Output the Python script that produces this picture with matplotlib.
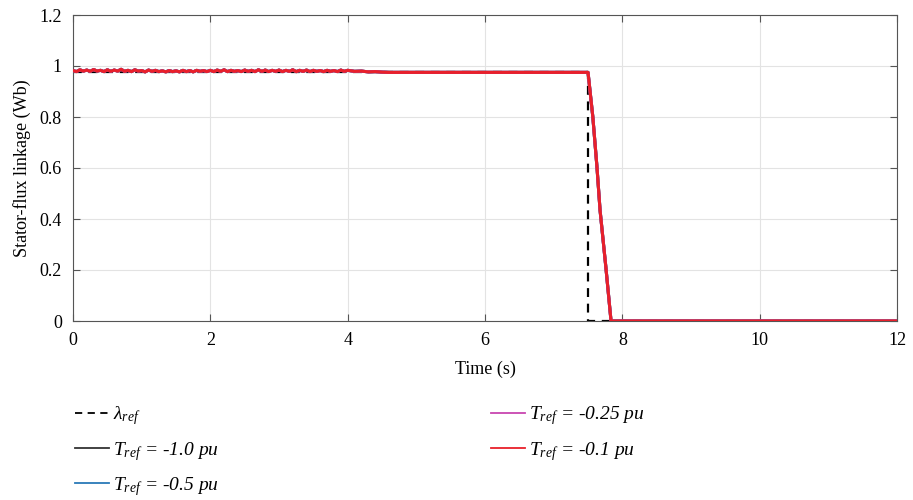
import numpy as np
import matplotlib
matplotlib.use("Agg")
import matplotlib.pyplot as plt

plt.rcParams["font.family"] = "Liberation Serif"
plt.rcParams["mathtext.fontset"] = "custom"
plt.rcParams["mathtext.it"] = "Liberation Serif:italic"
plt.rcParams["mathtext.rm"] = "Liberation Serif:italic"

# reference flux: constant then step to zero at 7.5 s
ref_t = [0.0, 7.5, 7.5, 12.0]
ref_flux = [0.975, 0.975, 0.0, 0.0]

# measured flux (ripple during first ~4.5 s, then flat, ramp down after 7.5 s)
ripple_t = [0.0, 0.05, 0.1, 0.15, 0.2, 0.25, 0.3, 0.35, 0.4, 0.45, 0.5, 0.55, 0.6,
            0.65, 0.7, 0.75, 0.8, 0.85, 0.9, 0.95, 1.0, 1.05, 1.1, 1.15, 1.2, 1.25,
            1.3, 1.35, 1.4, 1.45, 1.5, 1.55, 1.6, 1.65, 1.7, 1.75, 1.8, 1.85, 1.9,
            1.95, 2.0, 2.05, 2.1, 2.15, 2.2, 2.25, 2.3, 2.35, 2.4, 2.45, 2.5, 2.55,
            2.6, 2.65, 2.7, 2.75, 2.8, 2.85, 2.9, 2.95, 3.0, 3.05, 3.1, 3.15, 3.2,
            3.25, 3.3, 3.35, 3.4, 3.45, 3.5, 3.55, 3.6, 3.65, 3.7, 3.75, 3.8, 3.85,
            3.9, 3.95, 4.0, 4.1, 4.2, 4.3, 4.4, 4.5, 4.6]
ripple_flux = [0.982, 0.978, 0.985, 0.980, 0.984, 0.979, 0.986, 0.980, 0.983, 0.978,
               0.985, 0.979, 0.984, 0.980, 0.987, 0.979, 0.983, 0.978, 0.985, 0.980,
               0.982, 0.977, 0.984, 0.979, 0.983, 0.978, 0.981, 0.977, 0.982, 0.978,
               0.981, 0.977, 0.983, 0.978, 0.982, 0.977, 0.983, 0.979, 0.982, 0.978,
               0.983, 0.978, 0.984, 0.979, 0.985, 0.978, 0.983, 0.979, 0.982, 0.978,
               0.984, 0.979, 0.983, 0.978, 0.985, 0.979, 0.984, 0.978, 0.983, 0.979,
               0.984, 0.978, 0.983, 0.979, 0.985, 0.978, 0.983, 0.979, 0.984, 0.978,
               0.983, 0.979, 0.982, 0.978, 0.983, 0.979, 0.982, 0.978, 0.984, 0.979,
               0.983, 0.979, 0.980, 0.977, 0.978, 0.976, 0.975]
tail_t = [7.5, 7.57, 7.63, 7.675, 7.76, 7.835, 12.0]
tail_flux = [0.975, 0.80, 0.604, 0.435, 0.21, 0.0, 0.0]

t_meas = ripple_t + tail_t
flux_meas = ripple_flux + tail_flux

series_labels = [r"$T_{ref}$ = -1.0 pu", r"$T_{ref}$ = -0.5 pu",
                 r"$T_{ref}$ = -0.25 pu", r"$T_{ref}$ = -0.1 pu"]
series_colors = ["#333333", "#2a7ab8", "#c845b0", "#e8202a"]

fig = plt.figure(figsize=(9.13, 5.0), dpi=100)
ax = fig.add_axes([0.080, 0.358, 0.9025, 0.612])

ax.plot(ref_t, ref_flux, color="black", linestyle=(0, (4, 3)), lw=1.6,
        label=r"$\lambda_{ref}$", zorder=2)
for i, (lab, col) in enumerate(zip(series_labels, series_colors)):
    ax.plot(t_meas, flux_meas, color=col, lw=2.2, label=lab, zorder=3 + i)

ax.set_xlim(0, 12)
ax.set_ylim(0, 1.2)
ax.set_xticks(range(0, 13, 2))
ax.set_yticks([0, 0.2, 0.4, 0.6, 0.8, 1.0, 1.2])
ax.set_yticklabels(["0", "0.2", "0.4", "0.6", "0.8", "1", "1.2"])
ax.grid(True, color="#e3e3e3", lw=0.8)
ax.set_axisbelow(True)
ax.tick_params(direction="in", top=True, right=True, labelsize=13, length=5,
               color="#555555", pad=8)
for s in ax.spines.values():
    s.set_color("#555555")
    s.set_linewidth(0.8)
ax.set_xlabel("Time (s)", fontsize=13, labelpad=8)
ax.set_ylabel("Stator-flux linkage (Wb)", fontsize=13, labelpad=6)

handles, labels = ax.get_legend_handles_labels()
leg = fig.legend(handles, labels, loc="upper left", bbox_to_anchor=(0.063, 0.226),
                 ncol=2, frameon=False, prop={"size": 14, "style": "italic"},
                 handlelength=1.75, columnspacing=14.0, labelspacing=0.63,
                 handletextpad=0.2)
for h in leg.get_lines():
    h.set_linewidth(1.3)

fig.savefig("out.png", dpi=100)
